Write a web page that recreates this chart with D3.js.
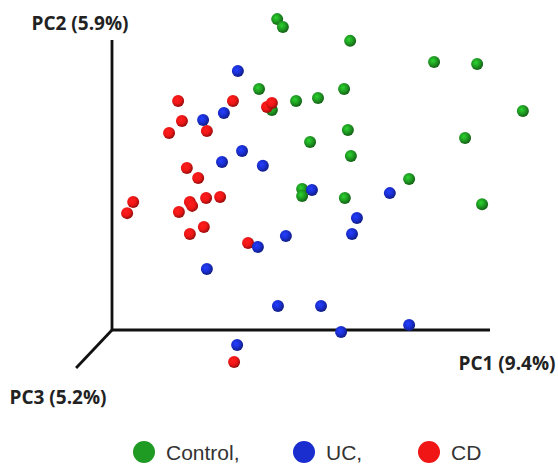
<!DOCTYPE html>
<html>
<head>
<meta charset="utf-8">
<script src="https://cdn.jsdelivr.net/npm/d3@7"></script>
<style>
  body { margin: 0; background: #fff; }
  svg { display: block; }
</style>
</head>
<body>
<div id="chart"></div>
<script>
// projected PCoA coordinates (screen plane of the 3D view), arbitrary units
let control_pts = [
    [43.7, 107.2], [45.2, 104.5], [63.0, 99.7], [85.2, 92.4], [96.6, 91.7],
    [38.9, 83.1], [48.7, 79.0], [54.5, 80.0], [61.4, 83.1], [108.7, 75.5],
    [42.3, 75.9], [93.4, 66.2], [62.4, 69.0], [52.4, 64.8], [63.2, 60.0],
    [78.6, 52.1], [50.3, 48.6], [50.3, 46.2], [61.6, 45.5], [97.9, 43.4]
];
let uc_pts = [
    [33.3, 89.3], [29.6, 74.8], [24.1, 72.4], [34.4, 61.7], [29.1, 57.9],
    [39.9, 56.6], [52.9, 48.3], [73.5, 47.2], [64.8, 38.6], [46.0, 32.4],
    [63.5, 33.1], [38.6, 28.6], [25.1, 21.0], [43.9, 8.3], [55.3, 8.3],
    [78.6, 1.7], [60.6, -0.7], [33.1, -5.2]
];
let cd_pts = [
    [17.5, 79.0], [32.0, 79.0], [41.0, 76.9], [42.3, 78.3], [18.5, 72.1],
    [25.1, 68.6], [15.1, 67.9], [19.8, 55.9], [22.8, 52.4], [5.6, 44.1],
    [4.0, 40.3], [17.7, 40.7], [20.6, 44.1], [21.2, 42.8], [24.9, 45.5],
    [28.6, 45.9], [24.3, 35.5], [20.6, 33.1], [36.0, 30.0], [32.3, -11.0]
];
let groups = ["Control,", "UC,", "CD"];
let axis_labels = ["PC1 (9.4%)", "PC2 (5.9%)", "PC3 (5.2%)"];

let width = 558;
let height = 466;
let colors = {"Control,": "#1f9a22", "UC,": "#1a2ed0", "CD": "#f01616"};

let x = d3.scaleLinear().domain([0, 100]).range([112, 490]);
let y = d3.scaleLinear().domain([0, 100]).range([330, 40]);

let svg = d3.select("#chart").append("svg")
    .attr("width", width)
    .attr("height", height);

let defs = svg.append("defs");
groups.forEach((g, i) => {
    let grad = defs.append("radialGradient")
        .attr("id", "ball" + i)
        .attr("cx", "40%").attr("cy", "38%").attr("r", "62%");
    let c = d3.color(colors[g]);
    grad.append("stop").attr("offset", "0%").attr("stop-color", c.brighter(0.9));
    grad.append("stop").attr("offset", "55%").attr("stop-color", c);
    grad.append("stop").attr("offset", "100%").attr("stop-color", c.darker(1.3));
});

// axes of the 3D view
let axes = svg.append("g").attr("stroke", "#111").attr("stroke-width", 2.8).attr("fill", "none");
axes.append("line").attr("x1", x(0)).attr("y1", y(0)).attr("x2", x(0)).attr("y2", y(100));
axes.append("line").attr("x1", x(0)).attr("y1", y(0)).attr("x2", x(100)).attr("y2", y(0));
axes.append("line").attr("x1", x(0)).attr("y1", y(0)).attr("x2", x(-9.5)).attr("y2", y(-13.1));

let lab = svg.append("g")
    .attr("font-family", "'Open Sans', sans-serif")
    .attr("font-weight", "bold")
    .attr("font-size", 19)
    .attr("fill", "#222")
    .attr("text-anchor", "middle")
    .attr("dominant-baseline", "central");
lab.append("text").attr("x", 507).attr("y", 363).text(axis_labels[0]);
lab.append("text").attr("x", 80).attr("y", 23).text(axis_labels[1]);
lab.append("text").attr("x", 58).attr("y", 397).text(axis_labels[2]);

// points: control first, then CD, then UC on top
let series = [[control_pts, 0], [cd_pts, 2], [uc_pts, 1]];
series.forEach(([pts, gi]) => {
    svg.append("g")
        .selectAll("circle")
        .data(pts)
        .join("circle")
        .attr("cx", d => x(d[0]))
        .attr("cy", d => y(d[1]))
        .attr("r", 6)
        .attr("fill", `url(#ball${gi})`);
});

// legend
let legend_x = [144, 304, 429];
let leg = svg.append("g").attr("transform", "translate(0,452)");
groups.forEach((g, i) => {
    leg.append("circle").attr("cx", legend_x[i]).attr("cy", 0).attr("r", 11).attr("fill", colors[g]);
    leg.append("text")
        .attr("x", legend_x[i] + 22)
        .attr("y", 0)
        .attr("dominant-baseline", "central")
        .attr("font-family", "'Liberation Sans', Arial, sans-serif")
        .attr("font-size", 21)
        .attr("fill", "#333")
        .text(g);
});
</script>
</body>
</html>
